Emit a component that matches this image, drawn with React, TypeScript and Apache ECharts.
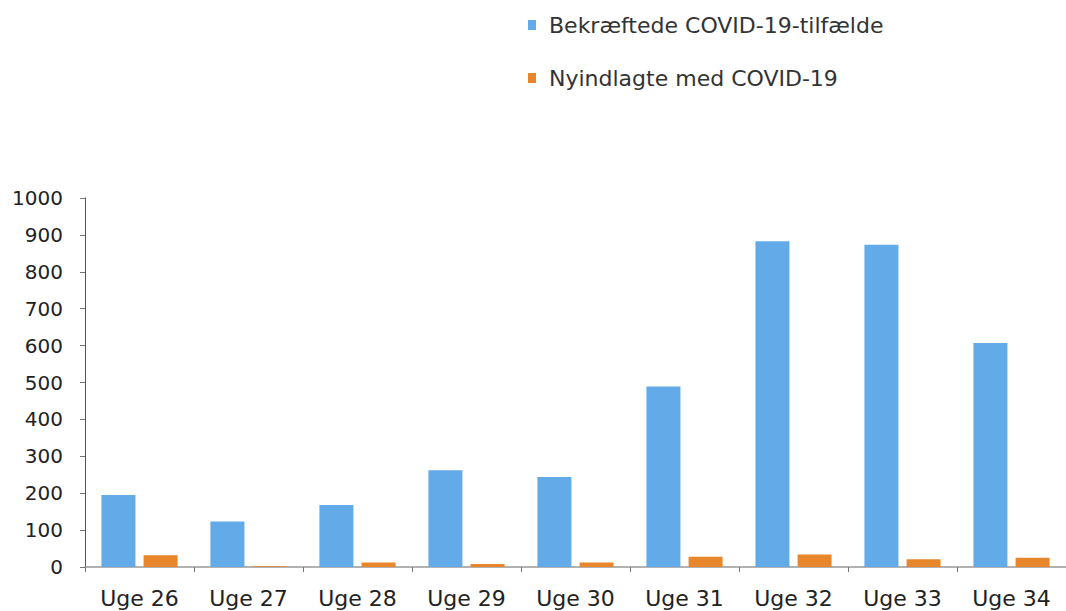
import React, { useEffect, useRef } from "react";
import * as echarts from "echarts";

const categories = ["Uge 26", "Uge 27", "Uge 28", "Uge 29", "Uge 30", "Uge 31", "Uge 32", "Uge 33", "Uge 34"];
const confirmedCases = [195, 123, 168, 262, 244, 489, 883, 873, 607];
const newlyAdmitted = [32, 2, 12, 8, 12, 28, 34, 21, 25];
const seriesNames = ["Bekræftede COVID-19-tilfælde", "Nyindlagte med COVID-19"];

export default function App() {
  const ref = useRef<HTMLDivElement>(null);
  useEffect(() => {
    document.body.style.margin = "0";
    const chart = echarts.init(ref.current!, null, { renderer: "svg" });
    const font = "'DejaVu Sans', sans-serif";
    chart.setOption({
      animation: false,
      backgroundColor: "#ffffff",
      textStyle: { fontFamily: font },
      legend: {
        orient: "vertical",
        left: 523,
        top: 8,
        itemWidth: 8,
        itemHeight: 10,
        itemGap: 29,
        icon: "rect",
        textStyle: { fontSize: 22, color: "#333", fontFamily: font, lineHeight: 24, padding: [0, 0, 0, 8] },
        data: seriesNames,
      },
      grid: { left: 85, right: -9, top: 198, bottom: 44, containLabel: false },
      xAxis: {
        type: "category",
        data: categories,
        axisLine: { lineStyle: { color: "#999", width: 1.5 } },
        axisTick: { show: true, length: 5, lineStyle: { color: "#777" } },
        axisLabel: { fontSize: 22, color: "#222", margin: 20, fontFamily: font },
      },
      yAxis: {
        type: "value",
        min: 0,
        max: 1000,
        interval: 100,
        splitLine: { show: false },
        axisLine: { show: true, lineStyle: { color: "#555", width: 1 } },
        axisTick: { show: true, length: 5, lineStyle: { color: "#777" } },
        axisLabel: { fontSize: 20, color: "#222", margin: 22, fontFamily: font, formatter: (v: number) => String(v) },
      },
      series: [
        {
          name: seriesNames[0],
          type: "bar",
          data: confirmedCases,
          barWidth: 34,
          barGap: "24%",
          itemStyle: { color: "#62aae8" },
        },
        {
          name: seriesNames[1],
          type: "bar",
          data: newlyAdmitted,
          barWidth: 34,
          itemStyle: { color: "#e8862c" },
        },
      ],
    });
    return () => chart.dispose();
  }, []);
  return <div ref={ref} style={{ width: 1066, height: 611 }} />;
}
